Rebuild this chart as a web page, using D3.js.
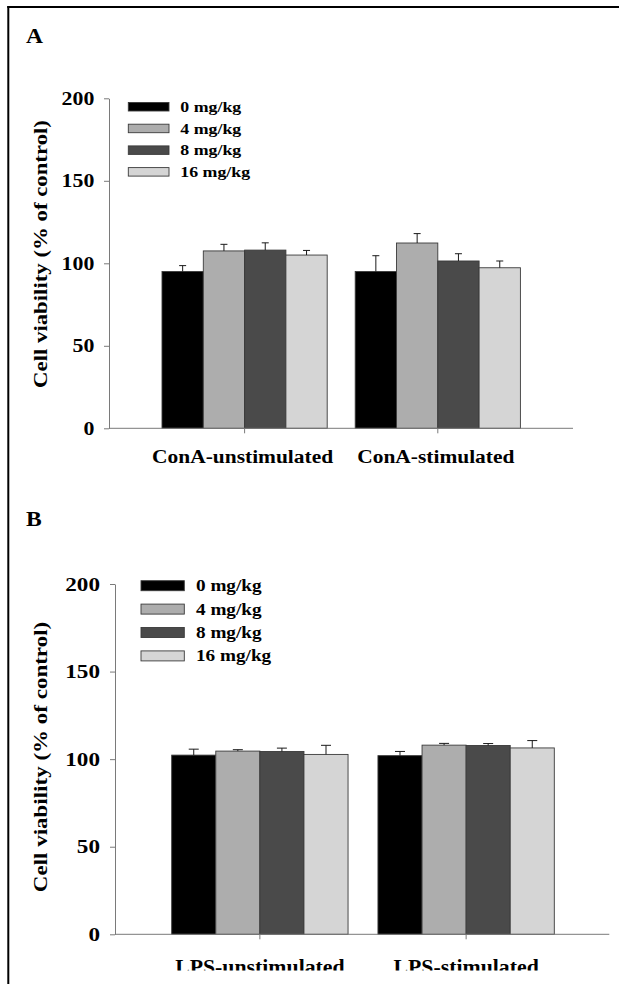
<!DOCTYPE html>
<html>
<head>
<meta charset="utf-8">
<script src="https://cdn.jsdelivr.net/npm/d3@7"></script>
<style>
  body { margin: 0; background: #fff; }
  svg { display: block; }
  text { font-family: "Liberation Serif", "Times New Roman", serif; font-weight: bold; fill: #000; }
</style>
</head>
<body>
<svg id="fig" width="619" height="984"></svg>
<script>
// Dose groups and their fills
const doses = ["0 mg/kg", "4 mg/kg", "8 mg/kg", "16 mg/kg"];
const doseColors = ["#000000", "#adadad", "#4a4a4a", "#d5d5d5"];
const yTicks = [0, 50, 100, 150, 200];
const yTitle = "Cell viability (% of control)";

// Panel A: splenocytes, ConA
const conaGroups = ["ConA-unstimulated", "ConA-stimulated"];
const conaUnstimMean = [95.0, 107.5, 108.0, 105.0];
const conaUnstimSem  = [3.6, 4.0, 4.4, 2.8];
const conaStimMean   = [95.0, 112.3, 101.4, 97.3];
const conaStimSem    = [9.6, 5.7, 4.4, 4.1];

// Panel B: splenocytes, LPS
const lpsGroups = ["LPS-unstimulated", "LPS-stimulated"];
const lpsUnstimMean = [102.3, 104.6, 104.4, 102.7];
const lpsUnstimSem  = [3.4, 0.8, 1.9, 5.2];
const lpsStimMean   = [102.0, 108.0, 107.8, 106.4];
const lpsStimSem    = [2.4, 1.0, 1.1, 4.2];

const svg = d3.select("#fig");

svg.append("defs").append("clipPath").attr("id", "pageClip")
  .append("rect").attr("x", 0).attr("y", 0).attr("width", 619).attr("height", 970.5);

// frame lines (top and left)
svg.append("line").attr("x1", 7.3).attr("x2", 619).attr("y1", 7).attr("y2", 7)
  .attr("stroke", "#000").attr("stroke-width", 2);
svg.append("line").attr("x1", 8.3).attr("x2", 8.3).attr("y1", 6).attr("y2", 984)
  .attr("stroke", "#000").attr("stroke-width", 2);

function wideText(parent, x, y, str, size, sx, anchor, rot) {
  const g = parent.append("g")
    .attr("transform", `translate(${x},${y}) rotate(${rot || 0}) scale(${sx},1)`);
  g.append("text").attr("text-anchor", anchor || "start")
    .style("font-size", size + "px").text(str);
  return g;
}

function drawPanel(p) {
  const g = svg.append("g");
  const axisColor = "#7a7a7a";

  const y = d3.scaleLinear().domain([0, 200]).range([p.yZero, p.yTop]);
  const x = d3.scaleBand().domain(p.groups).range([p.bandStart, p.bandEnd])
    .paddingInner(0.145).paddingOuter(0);
  const xd = d3.scaleBand().domain(doses).range([0, x.bandwidth()]);

  const rows = [];
  p.groups.forEach((grp, gi) => {
    doses.forEach((d, di) => {
      rows.push({ grp, dose: d, i: di, mean: p.means[gi][di], sem: p.sems[gi][di] });
    });
  });

  // bars
  g.selectAll("rect.bar").data(rows).join("rect").attr("class", "bar")
    .attr("x", d => x(d.grp) + xd(d.dose))
    .attr("y", d => y(d.mean))
    .attr("width", xd.bandwidth())
    .attr("height", d => y(0) - y(d.mean))
    .attr("fill", d => doseColors[d.i])
    .attr("stroke", "#3a3a3a").attr("stroke-width", 0.9);

  // upper error bars
  const eb = g.selectAll("g.err").data(rows).join("g").attr("class", "err")
    .attr("stroke", "#1a1a1a").attr("stroke-width", 1);
  eb.append("line")
    .attr("x1", d => x(d.grp) + xd(d.dose) + xd.bandwidth() / 2)
    .attr("x2", d => x(d.grp) + xd(d.dose) + xd.bandwidth() / 2)
    .attr("y1", d => y(d.mean)).attr("y2", d => y(d.mean + d.sem));
  eb.append("line")
    .attr("x1", d => x(d.grp) + xd(d.dose) + xd.bandwidth() / 2 - p.cap / 2)
    .attr("x2", d => x(d.grp) + xd(d.dose) + xd.bandwidth() / 2 + p.cap / 2)
    .attr("y1", d => y(d.mean + d.sem)).attr("y2", d => y(d.mean + d.sem));

  // y axis
  const ya = g.append("g").attr("transform", `translate(${p.axisX},0)`)
    .call(d3.axisLeft(y).tickValues(yTicks).tickSize(5).tickSizeOuter(0));
  ya.select(".domain").attr("stroke", axisColor);
  ya.selectAll(".tick line").attr("stroke", axisColor);
  ya.selectAll(".tick text")
    .attr("font-family", null).attr("font-size", null)
    .style("font-size", p.tickSize + "px")
    .attr("fill", "#000")
    .attr("x", -p.tickGap / p.tickSx)
    .attr("transform", `scale(${p.tickSx},1)`);

  // x axis: baseline across the plot, ticks at group centres
  g.append("line").attr("x1", p.axisX).attr("x2", p.axisEnd)
    .attr("y1", y(0)).attr("y2", y(0)).attr("stroke", axisColor);
  const xa = g.append("g").attr("transform", `translate(0,${y(0)})`)
    .call(d3.axisBottom(x).tickSize(5).tickSizeOuter(0).tickFormat(""));
  xa.select(".domain").remove();
  xa.selectAll(".tick line").attr("stroke", axisColor);

  const labels = g.append("g");
  if (p.clip) labels.attr("clip-path", "url(#pageClip)");
  p.groups.forEach(grp => {
    wideText(labels, x(grp) + x.bandwidth() / 2 + p.catShift, p.catBaseline, grp, p.catSize, p.catSx, "middle");
  });

  // y title
  wideText(g, p.titleX, p.titleY, yTitle, p.titleSize, p.titleSx, "middle", -90);

  // panel letter
  wideText(g, p.letterX, p.letterY, p.letter, 22, 1.07, "start");

  // legend
  const lg = g.append("g");
  doses.forEach((d, i) => {
    const top = p.legTop + i * p.legStep;
    lg.append("rect").attr("x", p.legX).attr("y", top)
      .attr("width", p.swW).attr("height", p.swH)
      .attr("fill", doseColors[i]).attr("stroke", "#3a3a3a").attr("stroke-width", 0.9);
    wideText(lg, p.legX + p.swW + p.legGap, top + p.swH / 2 + p.legSize * 0.34, d, p.legSize, p.legSx, "start");
  });
}

drawPanel({
  letter: "A", letterX: 26, letterY: 42.5,
  groups: conaGroups,
  means: [conaUnstimMean, conaStimMean],
  sems: [conaUnstimSem, conaStimSem],
  yZero: 428.3, yTop: 98.3,
  bandStart: 162, bandEnd: 520.4,
  axisX: 109, axisEnd: 573,
  cap: 7,
  tickSize: 18.5, tickSx: 1.18, tickGap: 14.7,
  catSize: 19.5, catSx: 1.1, catBaseline: 463.3, catShift: -2,
  titleX: 47, titleY: 254, titleSize: 19, titleSx: 1.2,
  legX: 128.3, legTop: 102.5, legStep: 21.7, swW: 40.7, swH: 8.5, legGap: 11.3,
  legSize: 15, legSx: 1.19
});

drawPanel({
  letter: "B", letterX: 26, letterY: 526,
  groups: lpsGroups,
  means: [lpsUnstimMean, lpsStimMean],
  sems: [lpsUnstimSem, lpsStimSem],
  yZero: 934.3, yTop: 584,
  bandStart: 171.7, bandEnd: 554.3,
  axisX: 115, axisEnd: 609.3,
  cap: 10,
  tickSize: 19, tickSx: 1.22, tickGap: 15,
  catSize: 20, catSx: 1.09, catBaseline: 973.5, catShift: 0, clip: true,
  titleX: 47, titleY: 757, titleSize: 19.5, titleSx: 1.18,
  legX: 141, legTop: 580.7, legStep: 23.4, swW: 43.3, swH: 10, legGap: 11.7,
  legSize: 16, legSx: 1.2
});
</script>
</body>
</html>
